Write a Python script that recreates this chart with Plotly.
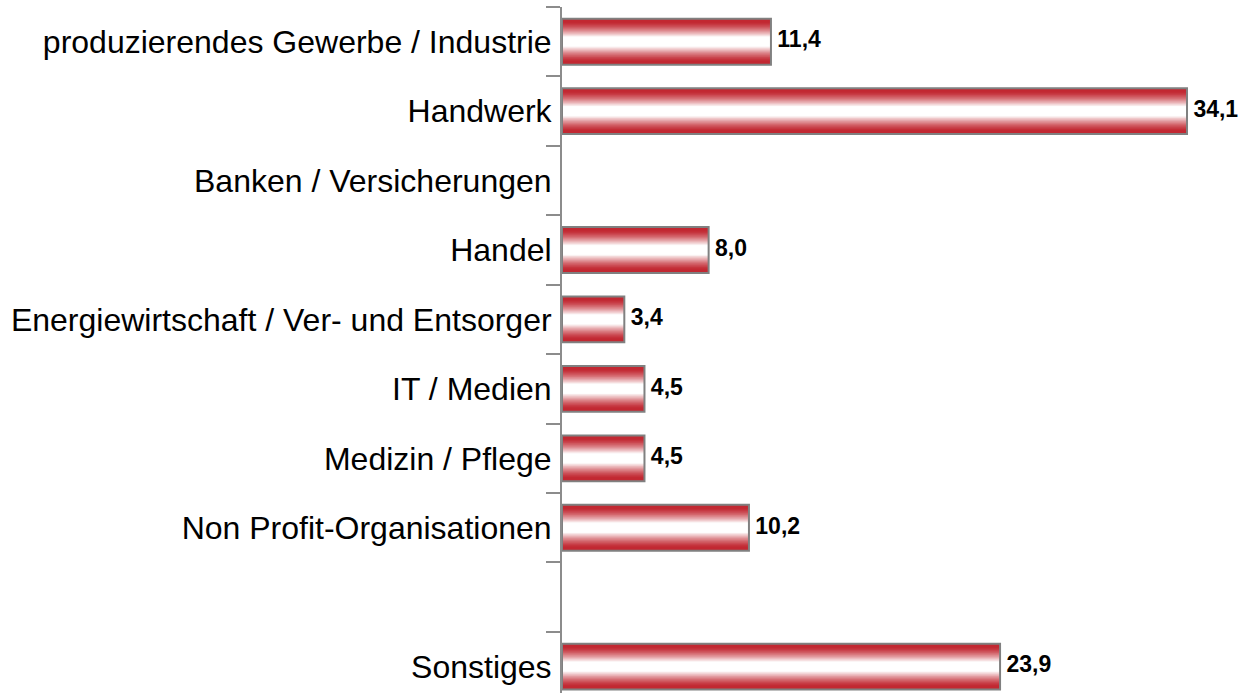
import plotly.graph_objects as go

categories = ["produzierendes Gewerbe / Industrie", "Handwerk", "Banken / Versicherungen",
              "Handel", "Energiewirtschaft / Ver- und Entsorger", "IT / Medien",
              "Medizin / Pflege", "Non Profit-Organisationen", " ", "Sonstiges"]
values = [11.4, 34.1, None, 8.0, 3.4, 4.5, 4.5, 10.2, None, 23.9]

fig = go.Figure()

# gradient layers (edge red -> white center)
bar_width = 0.66
layers = 24
edge = (194, 40, 50)
for i in range(layers):
    t = i / (layers - 1)
    w = bar_width * (1 - t * 0.85)
    d = 1 - t * 0.85
    lin = max(0.0, min(1.0, (0.88 - d) / 0.66))
    f = lin ** 1.4
    c = tuple(int(edge[k] + (255 - edge[k]) * f) for k in range(3))
    fig.add_trace(go.Bar(
        x=values, y=categories, orientation="h", width=w,
        marker=dict(color="rgb(%d,%d,%d)" % c, line=dict(width=0)),
        hoverinfo="skip", showlegend=False))

# border
fig.add_trace(go.Bar(
    x=values, y=categories, orientation="h", width=bar_width,
    marker=dict(color="rgba(0,0,0,0)", line=dict(color="#808080", width=2)),
    hoverinfo="skip", showlegend=False))

labels = ["" if v is None else ("%.1f" % v).replace(".", ",") for v in values]
fig.add_trace(go.Scatter(
    x=[0 if v is None else v for v in values], y=categories, mode="text",
    text=["" if v is None else " " + l for v, l in zip(values, labels)],
    textposition="middle right",
    textfont=dict(family="Liberation Sans, Arial", size=23, color="black", weight="bold"),
    cliponaxis=False, hoverinfo="skip", showlegend=False))

fig.update_layout(
    width=1242, height=693,
    margin=dict(l=562, r=0, t=7, b=0, autoexpand=False),
    plot_bgcolor="white", paper_bgcolor="white",
    barmode="overlay",
    xaxis=dict(range=[0, 37.1], showticklabels=False, showgrid=False,
               zeroline=False, showline=False, ticks="", automargin=False),
    yaxis=dict(type="category", categoryorder="array", categoryarray=categories,
               range=[9.38, -0.5], tickson="boundaries", ticks="outside",
               ticklen=14, tickwidth=2, tickcolor="#8c8c8c",
               showline=True, linecolor="#8c8c8c", linewidth=2,
               showgrid=False, zeroline=False, automargin=False,
               tickfont=dict(family="Liberation Sans, Arial", size=32, color="black"),
               ticklabelstandoff=2),
)

fig.write_html("out.html", config={"displayModeBar": False},
               post_script="document.body.style.margin='0px';document.body.style.padding='0px';")
